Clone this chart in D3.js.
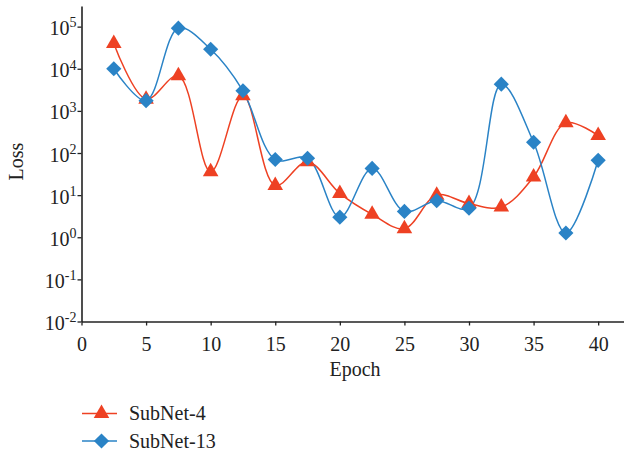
<!DOCTYPE html>
<html>
<head>
<meta charset="utf-8">
<script src="https://cdn.jsdelivr.net/npm/d3@7"></script>
<style>
  body { margin: 0; background: #fff; }
  svg text { font-family: "Liberation Serif", "DejaVu Serif", serif !important; fill: #222; }
</style>
</head>
<body>
<div id="chart"></div>
<script>
const epochs = [2.5, 5, 7.5, 10, 12.5, 15, 17.5, 20, 22.5, 25, 27.5, 30, 32.5, 35, 37.5, 40];
const subnet4 = [40000, 1900, 6800, 36, 2300, 17, 62, 11, 3.5, 1.6, 10, 6.3, 5.2, 27, 520, 260];
const subnet13 = [10000, 1750, 92000, 29000, 3000, 70, 75, 3, 43, 4.1, 7.4, 4.9, 4300, 180, 1.26, 67];
const xTicks = [0, 5, 10, 15, 20, 25, 30, 35, 40];
const yExps = [-2, -1, 0, 1, 2, 3, 4, 5];

const series = [
    { name: "SubNet-4", values: subnet4, color: "#ee4123", symbol: d3.symbolTriangle, size: 105 },
    { name: "SubNet-13", values: subnet13, color: "#2a83c6", symbol: d3.symbolSquare, size: 115, rotate: 45 }
];

const serif = "'Liberation Serif', 'DejaVu Serif', serif";
const W = 624, H = 453;
const svg = d3.select("#chart").append("svg")
    .attr("width", W)
    .attr("height", H)
    .style("font-family", serif);

const x = d3.scaleLinear().domain([0, 42]).range([81.5, 624]);
const y = d3.scaleLog().domain([1e-2, Math.pow(10, 5.49)]).range([321.5, 6]);

// axes
const xAxis = svg.append("g")
    .attr("transform", "translate(0,321.5)")
    .call(d3.axisBottom(x).tickValues(xTicks).tickSize(4).tickPadding(11).tickSizeOuter(0));
xAxis.attr("font-family", null);
xAxis.select(".domain").attr("stroke", "#222").attr("stroke-width", 1.6);
xAxis.selectAll(".tick line").attr("stroke", "#222").attr("stroke-width", 1.3);
xAxis.selectAll(".tick text").attr("font-size", 20).attr("fill", "#222").style("font-family", serif);

const yAxis = svg.append("g")
    .attr("transform", "translate(81.5,0)")
    .call(d3.axisLeft(y).tickValues(yExps.map(e => Math.pow(10, e))).tickSize(4).tickSizeOuter(0).tickFormat(""));
yAxis.attr("font-family", null);
yAxis.select(".domain").attr("stroke", "#222").attr("stroke-width", 1.6);
yAxis.selectAll(".tick line").attr("stroke", "#222").attr("stroke-width", 1.3);

yAxis.selectAll(".tick").each(function (d, i) {
    const t = d3.select(this).append("text")
        .attr("x", -5)
        .attr("dy", "0.4em")
        .attr("text-anchor", "end")
        .attr("font-size", 20)
        .attr("fill", "#222")
        .style("font-family", serif);
    t.append("tspan").text("10");
    t.append("tspan").attr("dy", "-0.55em").attr("font-size", 14).text(yExps[i]);
});

// axis titles
svg.append("text")
    .attr("x", 355).attr("y", 376)
    .attr("text-anchor", "middle")
    .attr("font-size", 20)
    .text("Epoch");
svg.append("text")
    .attr("transform", "translate(23,161.5) rotate(-90)")
    .attr("text-anchor", "middle")
    .attr("font-size", 20)
    .text("Loss");

// lines
const line = d3.line()
    .x((d, i) => x(epochs[i]))
    .y(d => y(d))
    .curve(d3.curveCatmullRom.alpha(0.5));

for (const s of series) {
    svg.append("path")
        .attr("d", line(s.values))
        .attr("fill", "none")
        .attr("stroke", s.color)
        .attr("stroke-width", 1.5);
}

for (const s of series) {
    const sym = d3.symbol().type(s.symbol).size(s.size);
    svg.append("g").selectAll("path")
        .data(s.values)
        .join("path")
        .attr("d", sym)
        .attr("fill", s.color)
        .attr("transform", (d, i) => `translate(${x(epochs[i])},${y(d)}) rotate(${s.rotate || 0})`);
}

// legend
const legend = svg.append("g");
series.forEach((s, i) => {
    const ly = 413.5 + i * 27.5;
    legend.append("line")
        .attr("x1", 82).attr("x2", 117)
        .attr("y1", ly).attr("y2", ly)
        .attr("stroke", s.color)
        .attr("stroke-width", 1.5);
    legend.append("path")
        .attr("d", d3.symbol().type(s.symbol).size(s.size)())
        .attr("fill", s.color)
        .attr("transform", `translate(101.5,${ly}) rotate(${s.rotate || 0})`);
    legend.append("text")
        .attr("x", 129).attr("y", ly)
        .attr("dy", "0.33em")
        .attr("font-size", 20)
        .text(s.name);
});
</script>
</body>
</html>
